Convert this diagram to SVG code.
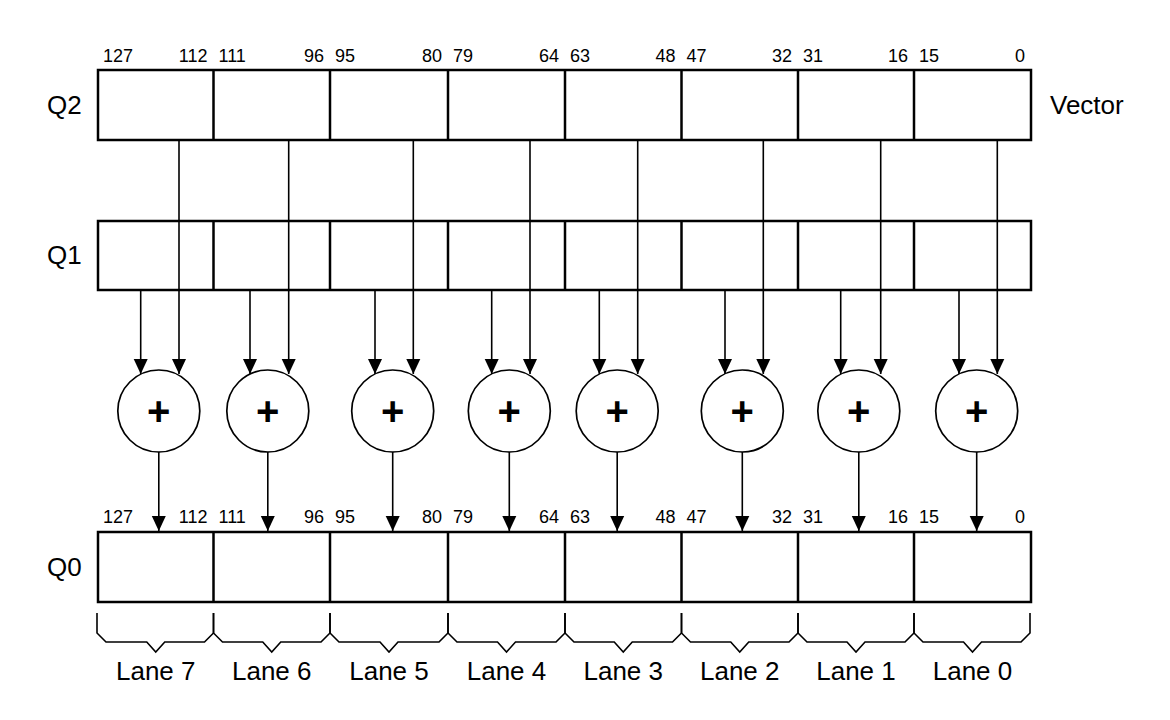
<svg xmlns="http://www.w3.org/2000/svg" width="1170" height="720" viewBox="0 0 1170 720">
<defs>
<marker id="ah" markerUnits="userSpaceOnUse" markerWidth="15" markerHeight="15" viewBox="0 0 15 15" refX="15" refY="7.5" orient="auto">
<path d="M0,0.5 L15,7.5 L0,14.5 z" fill="#000"/>
</marker>
<style>
.box{fill:#fff;stroke:#000;stroke-width:2.5}
.div{stroke:#000;stroke-width:2.5}
.arr{stroke:#000;stroke-width:1.6;fill:none;marker-end:url(#ah)}
.add{fill:#fff;stroke:#000;stroke-width:1.7}
.brace{stroke:#000;stroke-width:1.6;fill:none}
.lbl{font-family:"Liberation Sans",Arial,sans-serif;font-size:26px;fill:#000}
.num{font-family:"Liberation Sans",Arial,sans-serif;font-size:18px;fill:#000}
.r{text-anchor:end}
.c{text-anchor:middle}
.plus{font-family:"Liberation Sans",Arial,sans-serif;font-size:40px;font-weight:bold;text-anchor:middle;fill:#000}
</style>
</defs>
<rect width="1170" height="720" fill="#fff"/>

<g id="Q2">
<rect class="box" x="98" y="70" width="933" height="70"/>
<path class="div" d="M213.5,70V140M330,70V140M448,70V140M565,70V140M681.5,70V140M798,70V140M914,70V140"/>
<text class="lbl" x="47" y="114">Q2</text>
<text class="lbl" x="1050" y="114">Vector</text>
<g class="num">
<text x="103" y="62">127</text><text class="r" x="207.5" y="62">112</text>
<text x="218.5" y="62">111</text><text class="r" x="324" y="62">96</text>
<text x="335" y="62">95</text><text class="r" x="442" y="62">80</text>
<text x="453" y="62">79</text><text class="r" x="559" y="62">64</text>
<text x="570" y="62">63</text><text class="r" x="675.5" y="62">48</text>
<text x="686.5" y="62">47</text><text class="r" x="792" y="62">32</text>
<text x="803" y="62">31</text><text class="r" x="908" y="62">16</text>
<text x="919" y="62">15</text><text class="r" x="1025" y="62">0</text>
</g>
</g>

<g id="Q1">
<rect class="box" x="98" y="221" width="933" height="69"/>
<path class="div" d="M213.5,221V290M330,221V290M448,221V290M565,221V290M681.5,221V290M798,221V290M914,221V290"/>
<text class="lbl" x="47" y="264">Q1</text>
</g>

<g id="Q0">
<rect class="box" x="98" y="532" width="933" height="70"/>
<path class="div" d="M213.5,532V602M330,532V602M448,532V602M565,532V602M681.5,532V602M798,532V602M914,532V602"/>
<text class="lbl" x="47" y="576">Q0</text>
<g class="num">
<text x="103" y="523">127</text><text class="r" x="207.5" y="523">112</text>
<text x="218.5" y="523">111</text><text class="r" x="324" y="523">96</text>
<text x="335" y="523">95</text><text class="r" x="442" y="523">80</text>
<text x="453" y="523">79</text><text class="r" x="559" y="523">64</text>
<text x="570" y="523">63</text><text class="r" x="675.5" y="523">48</text>
<text x="686.5" y="523">47</text><text class="r" x="792" y="523">32</text>
<text x="803" y="523">31</text><text class="r" x="908" y="523">16</text>
<text x="919" y="523">15</text><text class="r" x="1025" y="523">0</text>
</g>
</g>

<g id="add7"><circle class="add" cx="158.8" cy="411" r="41"/><text class="plus" x="158.8" y="425">+</text></g>
<g id="add6"><circle class="add" cx="267.8" cy="411" r="41"/><text class="plus" x="267.8" y="425">+</text></g>
<g id="add5"><circle class="add" cx="392.7" cy="411" r="41"/><text class="plus" x="392.7" y="425">+</text></g>
<g id="add4"><circle class="add" cx="509.3" cy="411" r="41"/><text class="plus" x="509.3" y="425">+</text></g>
<g id="add3"><circle class="add" cx="617.2" cy="411" r="41"/><text class="plus" x="617.2" y="425">+</text></g>
<g id="add2"><circle class="add" cx="742.3" cy="411" r="41"/><text class="plus" x="742.3" y="425">+</text></g>
<g id="add1"><circle class="add" cx="858.8" cy="411" r="41"/><text class="plus" x="858.8" y="425">+</text></g>
<g id="add0"><circle class="add" cx="976.7" cy="411" r="41"/><text class="plus" x="976.7" y="425">+</text></g>

<g id="connectors">
<path class="arr" d="M179,140V374"/>
<path class="arr" d="M288.7,140V374"/>
<path class="arr" d="M413.3,140V374"/>
<path class="arr" d="M530,140V374"/>
<path class="arr" d="M637.7,140V374"/>
<path class="arr" d="M763.3,140V374"/>
<path class="arr" d="M880.7,140V374"/>
<path class="arr" d="M997.3,140V374"/>
<path class="arr" d="M140.7,290V374"/>
<path class="arr" d="M250,290V374"/>
<path class="arr" d="M375,290V374"/>
<path class="arr" d="M491.7,290V374"/>
<path class="arr" d="M599.3,290V374"/>
<path class="arr" d="M725,290V374"/>
<path class="arr" d="M840.7,290V374"/>
<path class="arr" d="M959,290V374"/>
<path class="arr" d="M158.8,452V531"/>
<path class="arr" d="M267.8,452V531"/>
<path class="arr" d="M392.7,452V531"/>
<path class="arr" d="M509.3,452V531"/>
<path class="arr" d="M617.2,452V531"/>
<path class="arr" d="M742.3,452V531"/>
<path class="arr" d="M858.8,452V531"/>
<path class="arr" d="M976.7,452V531"/>
</g>

<g id="lanes">
<path class="brace" d="M97,613V633L106,642H146.75L155.75,652L164.75,642H204.5L213.5,633V613"/>
<path class="brace" d="M213.5,613V633L222.5,642H262.75L271.75,652L280.75,642H321L330,633V613"/>
<path class="brace" d="M330,613V633L339,642H380L389,652L398,642H439L448,633V613"/>
<path class="brace" d="M448,613V633L457,642H497.5L506.5,652L515.5,642H556L565,633V613"/>
<path class="brace" d="M565,613V633L574,642H614.25L623.25,652L632.25,642H672.5L681.5,633V613"/>
<path class="brace" d="M681.5,613V633L690.5,642H730.75L739.75,652L748.75,642H789L798,633V613"/>
<path class="brace" d="M798,613V633L807,642H847L856,652L865,642H905L914,633V613"/>
<path class="brace" d="M914,613V633L923,642H963.5L972.5,652L981.5,642H1021L1030,633V613"/>
<text class="lbl c" x="155.75" y="680">Lane 7</text>
<text class="lbl c" x="271.75" y="680">Lane 6</text>
<text class="lbl c" x="389" y="680">Lane 5</text>
<text class="lbl c" x="506.5" y="680">Lane 4</text>
<text class="lbl c" x="623.25" y="680">Lane 3</text>
<text class="lbl c" x="739.75" y="680">Lane 2</text>
<text class="lbl c" x="856" y="680">Lane 1</text>
<text class="lbl c" x="972.5" y="680">Lane 0</text>
</g>
</svg>
